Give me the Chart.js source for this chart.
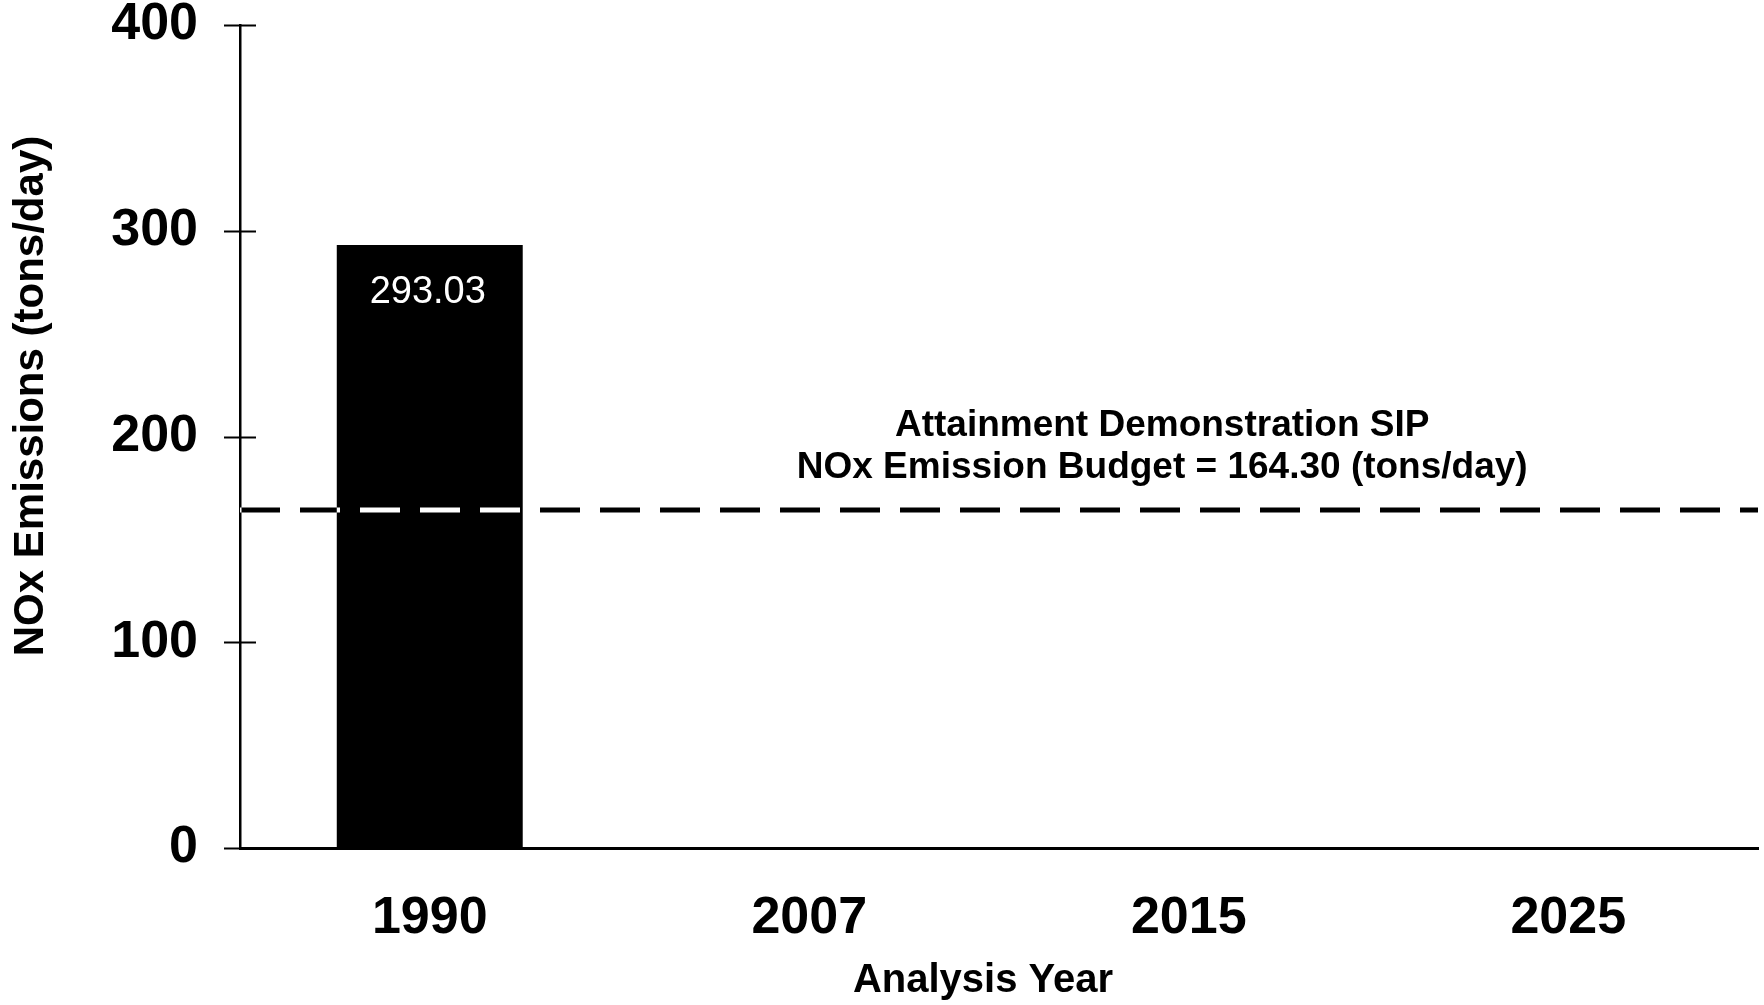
<!DOCTYPE html>
<html>
<head>
<meta charset="utf-8">
<script src="https://cdn.jsdelivr.net/npm/chart.js@4.4.0/dist/chart.umd.min.js"></script>
<style>
  html, body { margin: 0; padding: 0; background: #ffffff; }
</style>
</head>
<body>
<canvas id="noxChart" width="1764" height="1005"></canvas>
<script>
// ─────────────────────────────────────────
// DATA
// ─────────────────────────────────────────

const years        = ["1990", "2007", "2015", "2025"];
const noxEmissions = [293.03, null, null, null];
const budgetLevel  = 164.30;
const budgetLines  = ["Attainment Demonstration SIP", "NOx Emission Budget = 164.30 (tons/day)"];
const yTickValues  = [0, 100, 200, 300, 400];

const FONT = "'Liberation Sans', Arial, Helvetica, sans-serif";

// ─────────────────────────────────────────
// PLUGINS
// ─────────────────────────────────────────

const whiteBackground = {
  id: "whiteBackground",
  beforeDraw(chart) {
    const ctx = chart.ctx;
    ctx.save();
    ctx.fillStyle = "#ffffff";
    ctx.fillRect(0, 0, chart.width, chart.height);
    ctx.restore();
  }
};

const extras = {
  id: "extras",
  afterDraw(chart) {
    const ctx  = chart.ctx;
    const x    = chart.scales.x;
    const y    = chart.scales.y;
    const area = chart.chartArea;

    // y ticks crossing the axis
    ctx.save();
    ctx.strokeStyle = "#000";
    ctx.lineWidth = 2;
    yTickValues.forEach(v => {
      const py = Math.round(y.getPixelForValue(v)) + 0.5;
      ctx.beginPath();
      ctx.moveTo(area.left - 16, py);
      ctx.lineTo(v === 0 ? area.left : area.left + 16, py);
      ctx.stroke();
    });
    ctx.restore();

    // budget dashed line (inverted where it crosses the bar)
    const by = y.getPixelForValue(budgetLevel);
    ctx.save();
    ctx.globalCompositeOperation = "difference";
    ctx.strokeStyle = "#ffffff";
    ctx.lineWidth = 5;
    ctx.setLineDash([40, 20]);
    ctx.beginPath();
    ctx.moveTo(area.left, by);
    ctx.lineTo(area.right, by);
    ctx.stroke();
    ctx.restore();

    // value label inside the bar
    const meta = chart.getDatasetMeta(0);
    ctx.save();
    ctx.fillStyle = "#ffffff";
    ctx.font = "38px " + FONT;
    ctx.textAlign = "center";
    ctx.textBaseline = "middle";
    meta.data.forEach((bar, i) => {
      if (noxEmissions[i] == null) return;
      ctx.fillText(noxEmissions[i].toFixed(2), bar.x - 2, bar.y + 47);
    });
    ctx.restore();

    // budget annotation
    ctx.save();
    ctx.fillStyle = "#000";
    ctx.font = "bold 37px " + FONT;
    ctx.textAlign = "center";
    ctx.textBaseline = "middle";
    const cx = x.getPixelForValue(1.93);
    ctx.fillText(budgetLines[0], cx, by - 84);
    ctx.fillText(budgetLines[1], cx, by - 42);
    ctx.restore();

    // axis titles
    ctx.save();
    ctx.fillStyle = "#000";
    ctx.textAlign = "center";
    ctx.textBaseline = "middle";
    ctx.font = "bold 40px " + FONT;
    ctx.fillText("Analysis Year", 983, 981);
    ctx.font = "bold 42px " + FONT;
    ctx.translate(31, 396);
    ctx.rotate(-Math.PI / 2);
    ctx.fillText("NOx Emissions (tons/day)", 0, 0);
    ctx.restore();
  }
};

// ─────────────────────────────────────────
// CHART
// ─────────────────────────────────────────

new Chart(document.getElementById("noxChart"), {
  type: "bar",
  data: {
    labels: years,
    datasets: [{
      label: "NOx Emissions",
      data: noxEmissions,
      backgroundColor: "#000000",
      borderWidth: 0,
      barPercentage: 0.49,
      categoryPercentage: 1.0
    }]
  },
  options: {
    responsive: false,
    animation: false,
    layout: { padding: { top: 25, right: 6, bottom: 0, left: 0 } },
    plugins: {
      legend: { display: false },
      tooltip: { enabled: false }
    },
    scales: {
      x: {
        grid: { display: false, drawTicks: false },
        border: { display: true, color: "#000", width: 3 },
        ticks: {
          color: "#000",
          font: { family: FONT, size: 52, weight: "bold" },
          padding: 39
        },
        afterFit(scale) { scale.height = 157; scale.paddingLeft = 0; scale.paddingRight = 0; }
      },
      y: {
        min: 0,
        max: 400,
        grid: { display: false, drawTicks: false },
        border: { display: true, color: "#000", width: 2.5 },
        ticks: {
          stepSize: 100,
          color: "#000",
          font: { family: FONT, size: 52, weight: "bold" },
          padding: 42
        },
        afterFit(scale) { scale.width = 240; scale.paddingTop = 0; scale.paddingBottom = 0; }
      }
    }
  },
  plugins: [whiteBackground, extras]
});
</script>
</body>
</html>
